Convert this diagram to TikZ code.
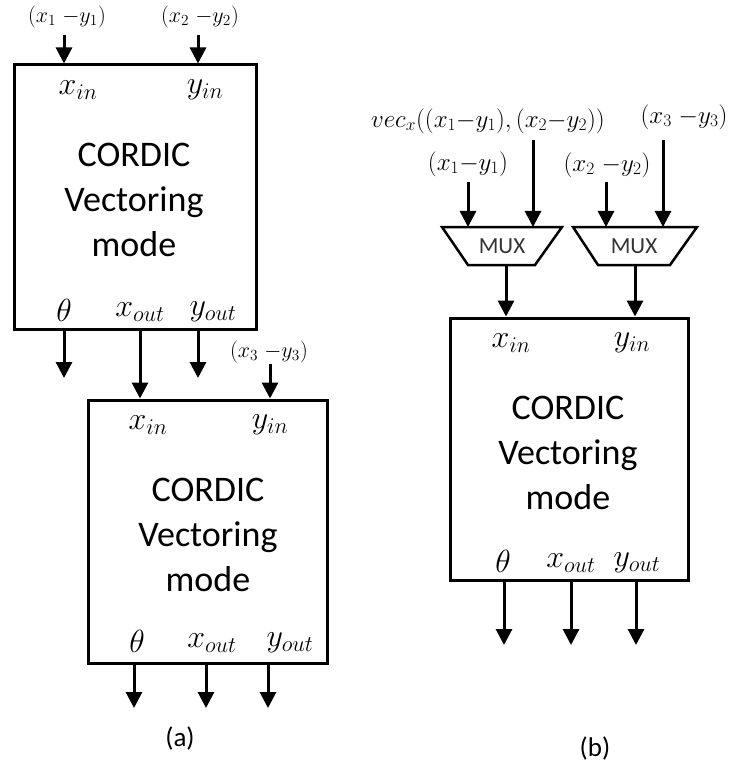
\RequirePackage{fix-cm}
\documentclass[tikz,border=0pt]{standalone}
\usepackage{fontspec}
\setsansfont{Carlito}
\usetikzlibrary{arrows.meta}
\begin{document}
\begin{tikzpicture}[x=1pt,y=-1pt,line width=3pt,
  >={Triangle[width=16pt,length=16pt]},
  box/.style={draw,line width=3pt,inner sep=0pt},
  big/.style={font=\sffamily\fontsize{36}{45}\selectfont,align=center},
  pin/.style={font=\fontsize{32}{34}\selectfont,inner sep=0pt},
  lab/.style={font=\fontsize{22}{24}\selectfont,inner sep=0pt},
  labb/.style={font=\fontsize{25}{27}\selectfont,inner sep=0pt},
  mux/.style={line width=2.5pt},
  muxt/.style={font=\sffamily\fontsize{23}{25}\selectfont,text=black!80},
  captxt/.style={font=\sffamily\fontsize{27}{30}\selectfont}]
\useasboundingbox (0,0) rectangle (729,767);

% ---------- (a) ----------
\node[box,minimum width=242pt,minimum height=264pt] (A1) at (135,197) {};
\node[big] (A1t) at (134,200) {CORDIC\\Vectoring\\mode};
\node[pin] (A1xi) at (78,90) {$x_{in}$};
\node[pin] (A1yi) at (205,90) {$y_{in}$};
\node[pin] (A1th) at (64,310) {$\theta$};
\node[pin] (A1xo) at (140,312) {$x_{out}$};
\node[pin] (A1yo) at (213,312) {$y_{out}$};
\node[lab] (l1) at (67,17) {$(x_1\;{-}y_1)$};
\node[lab] (l2) at (200,17) {$(x_2\;{-}y_2)$};
\coordinate (i1) at (64,35);
\coordinate (i2) at (198,35);
\draw[->] (i1) -- (i1 |- A1.north);
\draw[->] (i2) -- (i2 |- A1.north);
\coordinate (o1) at (64,378);
\coordinate (o3) at (198,378);
\draw[->] (o1 |- A1.south) -- (o1);
\draw[->] (o3 |- A1.south) -- (o3);

\node[box,minimum width=239pt,minimum height=263pt] (A2) at (207.5,531.5) {};
\node[big] (A2t) at (208,535) {CORDIC\\Vectoring\\mode};
\node[pin] (A2xi) at (148,425) {$x_{in}$};
\node[pin] (A2yi) at (270,425) {$y_{in}$};
\node[pin] (A2th) at (137,641) {$\theta$};
\node[pin] (A2xo) at (212,643) {$x_{out}$};
\node[pin] (A2yo) at (290,643) {$y_{out}$};
\coordinate (c2) at (140,0);
\draw[->] (c2 |- A1.south) -- (c2 |- A2.north);
\node[lab] (l3) at (269,352) {$(x_3\;{-}y_3)$};
\coordinate (i3) at (270,364);
\draw[->] (i3) -- (i3 |- A2.north);
\coordinate (p1) at (134,708);
\coordinate (p2) at (206,708);
\coordinate (p3) at (268,708);
\draw[->] (p1 |- A2.south) -- (p1);
\draw[->] (p2 |- A2.south) -- (p2);
\draw[->] (p3 |- A2.south) -- (p3);
\node[captxt] (ca) at (180,738) {(a)};

% ---------- (b) ----------
\node[box,minimum width=238pt,minimum height=262pt] (B) at (569,449) {};
\node[big] (Bt) at (568,453) {CORDIC\\Vectoring\\mode};
\node[pin] (Bxi) at (511,343) {$x_{in}$};
\node[pin] (Byi) at (632,343) {$y_{in}$};
\node[pin] (Bth) at (503,561) {$\theta$};
\node[pin] (Bxo) at (571,563) {$x_{out}$};
\node[pin] (Byo) at (637,563) {$y_{out}$};
\coordinate (q1) at (504,645);
\coordinate (q2) at (571,645);
\coordinate (q3) at (636,645);
\draw[->] (q1 |- B.south) -- (q1);
\draw[->] (q2 |- B.south) -- (q2);
\draw[->] (q3 |- B.south) -- (q3);
\node[captxt] (cb) at (595,748) {(b)};

% MUXes
\draw[mux] (442,227) -- (562,227) -- (535,265) -- (468,265) -- cycle;
\draw[mux] (573,227) -- (697,227) -- (670,265) -- (598,265) -- cycle;
\node[muxt] (M1) at (502,246) {MUX};
\node[muxt] (M2) at (634,246) {MUX};
\coordinate (m1t) at (502,227);
\coordinate (m1b) at (506,265);
\coordinate (m2b) at (635,265);
\draw[->] (m1b) -- (m1b |- B.north);
\draw[->] (m2b) -- (m2b |- B.north);

\node[labb] (v) at (488,121) {$vec_x((x_1{-}y_1),(x_2{-}y_2))$};
\node[labb] (l33) at (684,117) {$(x_3\;{-}y_3)$};
\node[labb] (l11) at (468,164) {$(x_1{-}y_1)$};
\node[labb] (l22) at (607,165) {$(x_2\;{-}y_2)$};
\coordinate (a1) at (468,182);
\coordinate (a2) at (533,140);
\coordinate (a3) at (606,182);
\coordinate (a4) at (663,140);
\draw[->] (a1) -- (a1 |- m1t);
\draw[->] (a2) -- (a2 |- m1t);
\draw[->] (a3) -- (a3 |- m1t);
\draw[->] (a4) -- (a4 |- m1t);
\end{tikzpicture}
\end{document}
